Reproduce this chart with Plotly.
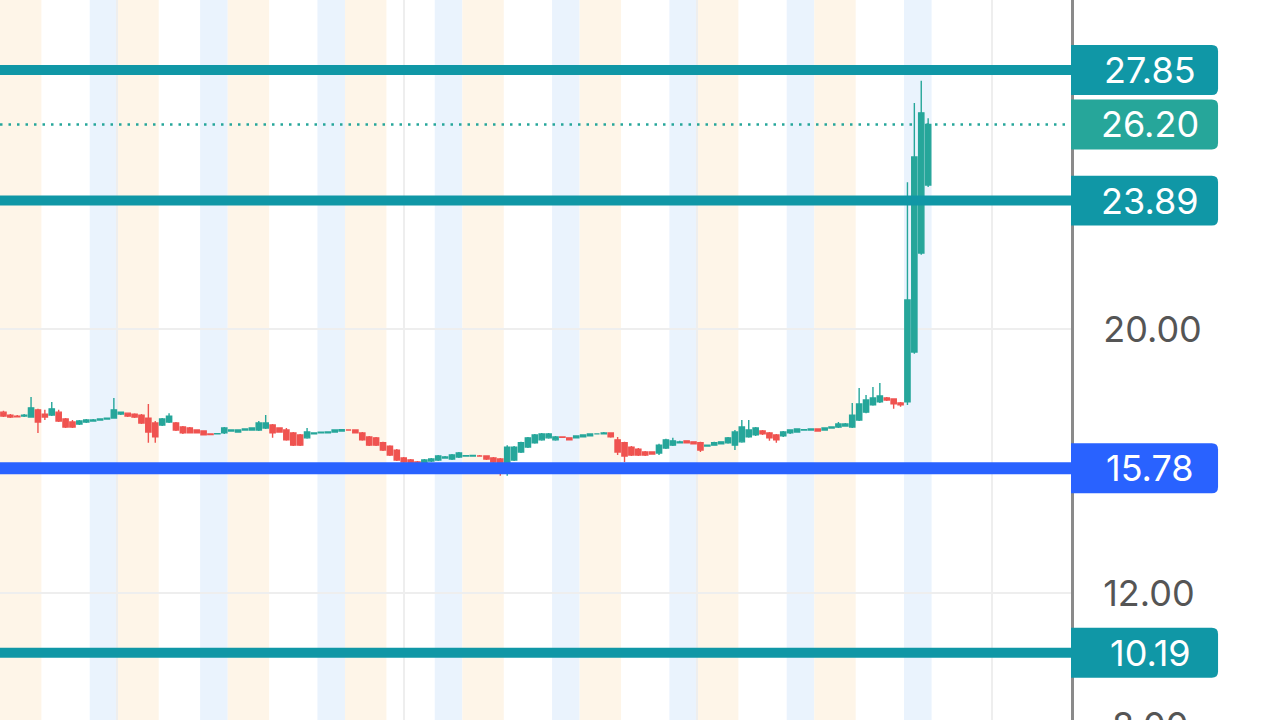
import plotly.graph_objects as go

# hourly bars (extended hours), x = bar index
bar_index = list(range(135))

opens = [
    17.48, 17.39, 17.36, 17.36, 17.33, 17.55, 17.42, 17.39, 17.48, 17.27, 17.18, 17.12, 17.18, 17.21, 17.24, 17.27,
    17.30, 17.42, 17.45, 17.42, 17.39, 17.30, 17.15, 17.09, 17.18, 17.15, 17.03, 17.00, 16.94, 16.91, 16.82, 16.82,
    16.85, 16.91, 16.88, 16.94, 16.94, 16.94, 17.00, 17.09, 17.00, 16.94, 16.85, 16.79, 16.70, 16.82, 16.85, 16.85,
    16.88, 16.91, 16.94, 16.94, 16.85, 16.73, 16.70, 16.55, 16.45, 16.33, 16.09, 16.03, 15.97, 15.94, 16.00, 16.03,
    16.09, 16.06, 16.12, 16.15, 16.15, 16.15, 16.15, 16.09, 16.06, 15.94, 16.03, 16.27, 16.42, 16.55, 16.64, 16.70,
    16.64, 16.73, 16.70, 16.70, 16.73, 16.76, 16.82, 16.82, 16.85, 16.64, 16.55, 16.42, 16.36, 16.27, 16.27, 16.24,
    16.39, 16.48, 16.55, 16.61, 16.58, 16.55, 16.45, 16.48, 16.52, 16.55, 16.48, 16.58, 16.73, 16.79, 16.91, 16.85,
    16.79, 16.76, 16.85, 16.88, 16.94, 16.94, 16.97, 16.94, 17.00, 17.03, 17.06, 17.03, 17.24, 17.48, 17.70, 17.79,
    17.91, 17.88, 17.76, 17.79, 19.30, 22.30, 24.36,
]
highs = [
    17.52, 17.42, 17.39, 17.42, 17.94, 17.58, 17.55, 17.79, 17.55, 17.30, 17.24, 17.24, 17.27, 17.27, 17.29, 17.32,
    17.91, 17.48, 17.47, 17.45, 17.42, 17.73, 17.21, 17.30, 17.45, 17.18, 17.06, 17.03, 16.96, 16.93, 16.84, 16.85,
    17.03, 16.96, 16.96, 16.99, 17.02, 17.21, 17.39, 17.12, 17.02, 17.00, 16.88, 16.82, 17.00, 16.87, 16.89, 16.90,
    16.96, 16.97, 16.96, 16.96, 16.88, 16.76, 16.73, 16.58, 16.48, 16.36, 16.12, 16.06, 16.00, 16.06, 16.09, 16.18,
    16.15, 16.21, 16.27, 16.18, 16.19, 16.18, 16.17, 16.12, 16.09, 16.48, 16.45, 16.58, 16.73, 16.82, 16.85, 16.85,
    16.76, 16.75, 16.72, 16.78, 16.81, 16.84, 16.84, 16.88, 16.87, 16.73, 16.58, 16.45, 16.39, 16.30, 16.29, 16.52,
    16.67, 16.70, 16.61, 16.63, 16.60, 16.58, 16.50, 16.58, 16.60, 16.73, 16.94, 17.24, 17.24, 17.03, 16.94, 16.88,
    16.82, 16.91, 16.96, 16.99, 16.97, 16.99, 16.99, 17.02, 17.05, 17.18, 17.15, 17.76, 18.21, 18.00, 18.24, 18.36,
    17.94, 17.90, 17.79, 24.45, 26.85, 27.52, 26.39,
]
lows = [
    17.33, 17.30, 17.33, 17.33, 17.33, 16.85, 17.24, 17.36, 17.18, 17.00, 17.00, 17.09, 17.15, 17.21, 17.23, 17.26,
    17.30, 17.39, 17.33, 17.30, 17.12, 16.55, 16.55, 17.06, 17.15, 16.91, 16.82, 16.83, 16.83, 16.77, 16.78, 16.80,
    16.82, 16.89, 16.86, 16.92, 16.92, 16.91, 16.97, 16.70, 16.86, 16.61, 16.45, 16.45, 16.67, 16.80, 16.83, 16.83,
    16.86, 16.89, 16.92, 16.83, 16.61, 16.45, 16.45, 16.30, 16.15, 16.00, 15.94, 15.88, 15.88, 15.91, 15.97, 16.00,
    16.07, 16.03, 16.09, 16.13, 16.13, 16.13, 16.03, 15.88, 15.55, 15.55, 16.00, 16.24, 16.39, 16.52, 16.61, 16.67,
    16.61, 16.70, 16.62, 16.68, 16.71, 16.74, 16.80, 16.80, 16.70, 16.18, 15.97, 16.15, 16.15, 16.15, 16.19, 16.18,
    16.36, 16.45, 16.53, 16.53, 16.50, 16.27, 16.43, 16.46, 16.50, 16.52, 16.33, 16.55, 16.70, 16.76, 16.79, 16.61,
    16.55, 16.73, 16.82, 16.86, 16.92, 16.92, 16.89, 16.92, 16.98, 17.00, 17.04, 17.00, 17.21, 17.45, 17.67, 17.76,
    17.82, 17.58, 17.64, 17.70, 19.25, 22.25, 24.30,
]
closes = [
    17.36, 17.33, 17.34, 17.39, 17.61, 17.18, 17.33, 17.58, 17.21, 17.03, 17.03, 17.21, 17.24, 17.24, 17.27, 17.30,
    17.55, 17.48, 17.36, 17.33, 17.15, 16.88, 16.73, 17.27, 17.36, 16.94, 16.85, 16.85, 16.85, 16.79, 16.80, 16.83,
    17.00, 16.94, 16.94, 16.97, 17.00, 17.15, 17.15, 16.85, 16.88, 16.64, 16.48, 16.48, 16.88, 16.85, 16.87, 16.88,
    16.94, 16.95, 16.94, 16.85, 16.64, 16.48, 16.48, 16.33, 16.18, 16.03, 15.97, 15.91, 15.91, 16.03, 16.06, 16.15,
    16.12, 16.18, 16.24, 16.16, 16.17, 16.15, 16.06, 15.97, 15.94, 16.42, 16.42, 16.55, 16.70, 16.79, 16.82, 16.82,
    16.73, 16.72, 16.64, 16.76, 16.79, 16.82, 16.82, 16.85, 16.73, 16.27, 16.15, 16.18, 16.18, 16.18, 16.21, 16.48,
    16.64, 16.61, 16.58, 16.55, 16.52, 16.33, 16.48, 16.55, 16.58, 16.70, 16.88, 17.03, 16.94, 17.00, 16.82, 16.70,
    16.64, 16.88, 16.94, 16.97, 16.95, 16.97, 16.91, 17.00, 17.03, 17.12, 17.12, 17.39, 17.73, 17.85, 17.91, 17.97,
    17.85, 17.73, 17.70, 20.88, 25.21, 26.55, 26.20,
]

# drawn price levels
teal_levels = [27.85, 23.89, 10.19]
blue_level = 15.78
last_price = 26.20

# session boundaries (bar index): pre-market, regular, after-hours
day_starts = [-0.5, 16.5, 32.5, 49.5, 66.5, 83.5, 100.5, 117.5]
reg_starts = [5.5, 22.5, 38.5, 55.5, 72.5, 89.5, 106.5, 123.5]
post_starts = [12.5, 28.5, 45.5, 62.5, 79.5, 96.5, 113.5, 130.5]
day_ends = [16.5, 32.5, 49.5, 66.5, 83.5, 100.5, 117.5, 134.5]

grid_x = [16.5, 58, 100.5, 143.3]
y_ticks = [8, 12, 20]

Y_MIN, Y_MAX = 8.15, 29.97
X_MIN, X_MAX = -0.5, 154.7

UP = "#26a69a"
DOWN = "#ef5350"
TEAL = "#1097a6"
BLUE = "#2962ff"
FONT = "Inter"
FSIZE = 36

fig = go.Figure(go.Candlestick(
    x=bar_index, open=opens, high=highs, low=lows, close=closes,
    increasing=dict(line=dict(color=UP, width=1.4), fillcolor=UP),
    decreasing=dict(line=dict(color=DOWN, width=1.4), fillcolor=DOWN),
    hoverinfo="skip",
))

shapes = []
# session shading
for s, r, p, e in zip(day_starts, reg_starts, post_starts, day_ends):
    shapes.append(dict(type="rect", xref="x", yref="paper", x0=s, x1=r, y0=0, y1=1,
                       fillcolor="#fef5e8", line_width=0, layer="below"))
    shapes.append(dict(type="rect", xref="x", yref="paper", x0=p, x1=e, y0=0, y1=1,
                       fillcolor="#eaf3fd", line_width=0, layer="below"))

# level lines
for lv in teal_levels:
    shapes.append(dict(type="line", xref="paper", yref="y", x0=0, x1=1, y0=lv, y1=lv,
                       line=dict(color=TEAL, width=10), layer="above"))
shapes.append(dict(type="line", xref="paper", yref="y", x0=0, x1=1, y0=blue_level, y1=blue_level,
                   line=dict(color=BLUE, width=12), layer="above"))
shapes.append(dict(type="line", xref="paper", yref="y", x0=0, x1=1, y0=last_price, y1=last_price,
                   line=dict(color=UP, width=2.5, dash="2.5px,6px"), layer="above"))

# price label boxes on the scale
BOX_X0, BOX_X1, RX = 1.0, 1.1373, 0.0058
HALF, RY = 0.757, 0.19


def label_box(value, color):
    y0, y1 = value - HALF, value + HALF
    path = (f"M {BOX_X0},{y0} L {BOX_X1 - RX},{y0} Q {BOX_X1},{y0} {BOX_X1},{y0 + RY} "
            f"L {BOX_X1},{y1 - RY} Q {BOX_X1},{y1} {BOX_X1 - RX},{y1} L {BOX_X0},{y1} Z")
    return dict(type="path", xref="paper", yref="y", path=path,
                fillcolor=color, line_width=0, layer="above")


labels = [(v, TEAL) for v in teal_levels] + [(blue_level, BLUE), (last_price, UP)]
annotations = []
for v, col in labels:
    shapes.append(label_box(v, col))
    annotations.append(dict(xref="paper", yref="y", x=1.0738, y=v, text=f"{v:.2f}",
                            showarrow=False, xanchor="center", yanchor="middle",
                            font=dict(family=FONT, size=FSIZE, color="white")))

# partially visible tick at the bottom edge
annotations.append(dict(xref="paper", yref="paper", x=1.0738,
                        y=(y_ticks[0] - Y_MIN) / (Y_MAX - Y_MIN), text=f"{y_ticks[0]:.2f}",
                        showarrow=False, xanchor="center", yanchor="middle",
                        font=dict(family=FONT, size=FSIZE, color="#555555")))

fig.update_layout(
    width=1280, height=720,
    margin=dict(l=0, r=209, t=0, b=0),
    paper_bgcolor="white", plot_bgcolor="white",
    showlegend=False, hovermode=False,
    boxgap=0.2, boxgroupgap=0.05,
    shapes=shapes, annotations=annotations,
    font=dict(family=FONT),
    xaxis=dict(range=[X_MIN, X_MAX], rangeslider=dict(visible=False), showticklabels=False,
               tickvals=grid_x, showgrid=True, gridcolor="#eeeeee", gridwidth=2,
               zeroline=False, ticks=""),
    yaxis=dict(range=[Y_MIN, Y_MAX], side="right", tickvals=y_ticks[1:], tickformat=".2f",
               tickfont=dict(family=FONT, size=FSIZE, color="#555555"),
               showgrid=True, gridcolor="#eeeeee", gridwidth=2, zeroline=False,
               showline=True, linecolor="#8a8a8a", linewidth=3, ticks="",
               ticklabelstandoff=22),
)

fig.write_html("out.html", post_script="document.body.style.margin='0';",
               config={"displayModeBar": False})
